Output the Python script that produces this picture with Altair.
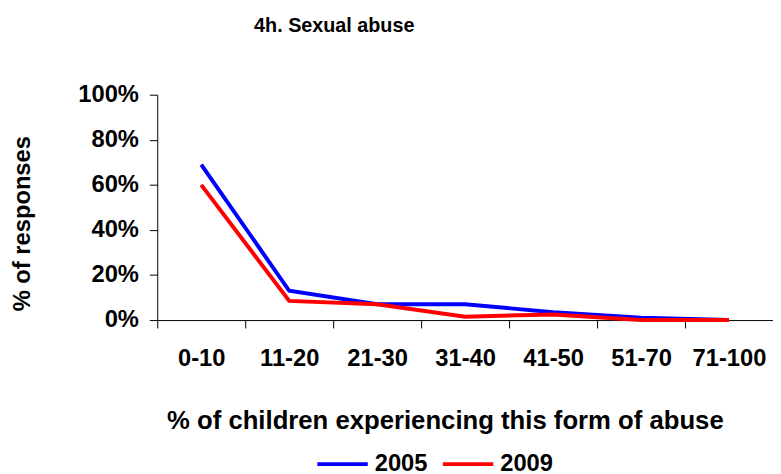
import altair as alt
import pandas as pd

categories = ["0-10", "11-20", "21-30", "31-40", "41-50", "51-70", "71-100"]
series_2005 = [0.69, 0.13, 0.07, 0.07, 0.035, 0.01, 0.0]
series_2009 = [0.60, 0.085, 0.07, 0.015, 0.025, 0.0, 0.0]
years = ["2005", "2009"]
colors = ["#0000FF", "#FF0000"]
y_ticks = [0, 0.2, 0.4, 0.6, 0.8, 1.0]

rows = []
for c, v in zip(categories, series_2005):
    rows.append({"cat": c, "year": "2005", "value": v})
for c, v in zip(categories, series_2009):
    rows.append({"cat": c, "year": "2009", "value": v})
df = pd.DataFrame(rows)

FONT = "Liberation Sans"

chart = alt.Chart(df).mark_line(strokeWidth=4).encode(
    x=alt.X(
        "cat:N",
        sort=categories,
        bandPosition=0.5,
        scale=alt.Scale(type="band", paddingInner=0, paddingOuter=0),
        axis=alt.Axis(
            title="% of children experiencing this form of abuse",
            tickBand="extent",
            labelAngle=0,
            labelFontSize=24,
            labelFont=FONT,
            labelFontWeight="bold",
            labelColor="black",
            labelPadding=19,
            tickSize=8,
            tickColor="black",
            domainColor="black",
            titleFontSize=26,
            titleFont=FONT,
            titleFontWeight="bold",
            titleColor="black",
            titleX=291,
            titleY=110,
            titleBaseline="alphabetic",
            grid=False,
        ),
    ),
    y=alt.Y(
        "value:Q",
        scale=alt.Scale(domain=[0, 1]),
        axis=alt.Axis(
            title="% of responses",
            values=y_ticks,
            format=".0%",
            labelFontSize=24,
            labelFont=FONT,
            labelFontWeight="bold",
            labelColor="black",
            labelPadding=11,
            tickSize=8,
            tickColor="black",
            domainColor="black",
            titleFontSize=24,
            titleFont=FONT,
            titleFontWeight="bold",
            titleColor="black",
            titleX=-129,
            titleY=130,
            titleBaseline="alphabetic",
            grid=False,
        ),
    ),
    color=alt.Color(
        "year:N",
        scale=alt.Scale(domain=years, range=colors),
        legend=alt.Legend(
            title=None,
            orient="none",
            legendX=160,
            legendY=346,
            direction="horizontal",
            symbolType="stroke",
            symbolSize=2601,
            symbolStrokeWidth=4,
            labelFontSize=24,
            labelFont=FONT,
            labelFontWeight="bold",
            labelColor="black",
            labelOffset=5,
            columnPadding=7,
            padding=0,
        ),
    ),
).properties(
    width=623,
    height=228,
    padding={"left": 151, "top": 85, "right": 0, "bottom": 153},
    autosize=alt.AutoSizeParams(type="none"),
    title=alt.TitleParams(
        "4h. Sexual abuse",
        fontSize=20,
        font=FONT,
        fontWeight="bold",
        color="black",
        anchor="start",
        frame="group",
        dx=98,
        offset=31,
        baseline="alphabetic",
    ),
).configure_view(stroke=None)

chart.save("out.html", embed_options={"renderer": "svg", "actions": False})
